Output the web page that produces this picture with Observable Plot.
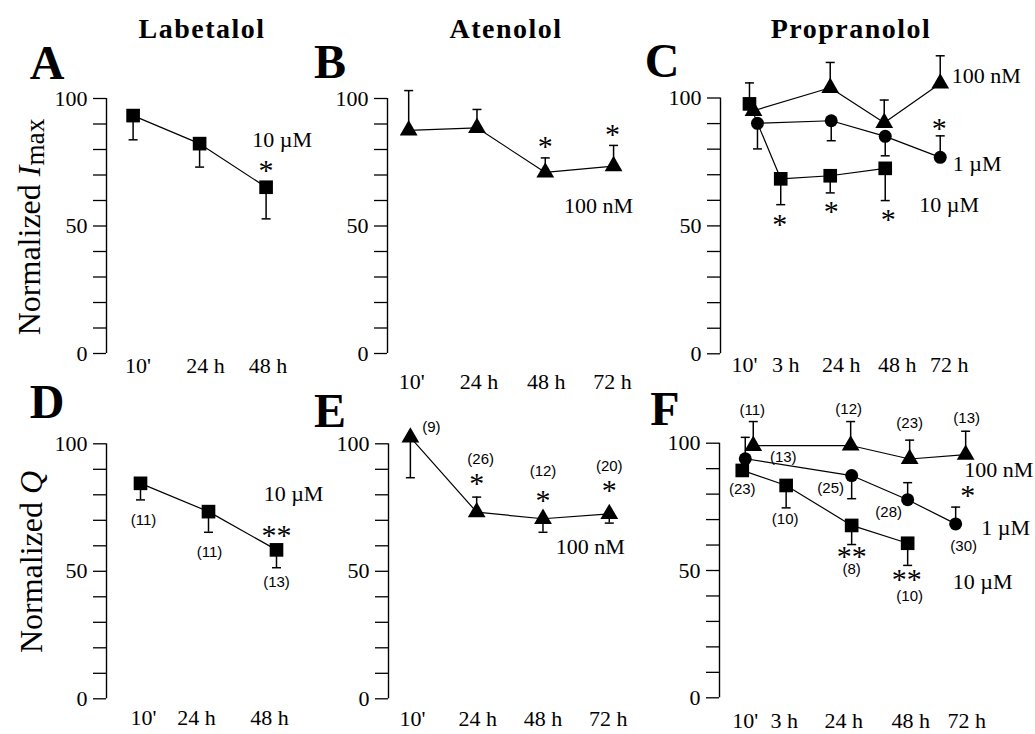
<!DOCTYPE html>
<html><head><meta charset="utf-8">
<script src="https://cdn.jsdelivr.net/npm/d3@7"></script>
<script src="https://cdn.jsdelivr.net/npm/@observablehq/plot@0.6"></script>
<style>
body{margin:0;background:#fff;}
#fig{position:relative;width:1035px;height:734px;overflow:hidden;background:#fff;font-family:"Liberation Serif","Times New Roman",serif;color:#000;}
#fig svg{position:absolute;}
.lbl{position:absolute;white-space:nowrap;line-height:1;}
.title{font-weight:bold;font-size:28px;letter-spacing:1.5px;transform:translateX(-50%);}
.letter{font-weight:bold;font-size:48px;transform:translateX(-50%);}
.ylab{font-size:32px;transform:translate(-50%,-50%) rotate(-90deg);}
.ylab sub{font-size:0.85em;vertical-align:-0.12em;}
</style></head><body><div id="fig"></div><script>
// ================= DATA =================
const drugTitles = ["Labetalol", "Atenolol", "Propranolol"];
const panelLetters = ["A", "B", "C", "D", "E", "F"];

// Labetalol (10 µM)
const labTimes = ["10'", "24 h", "48 h"];
const labImax = [93.3, 82.3, 65.2];
const labImaxErr = [-9.5, -9.2, -12.4];
const labImaxSig = ["", "", "*"];
const labQ = [84.5, 73.4, 58.4];
const labQErr = [-6.5, -8.1, -7.0];
const labQN = [11, 11, 13];
const labQSig = ["", "", "**"];

// Atenolol (100 nM)
const atnTimes = ["10'", "24 h", "48 h", "72 h"];
const atnImax = [87.5, 88.5, 71.0, 73.5];
const atnImaxErr = [15.6, 7.2, 5.7, 8.1];
const atnImaxSig = ["", "", "*", "*"];
const atnQ = [102.5, 73.2, 70.6, 72.5];
const atnQErr = [-15.8, 5.9, -5.3, -3.6];
const atnQN = [9, 26, 12, 20];
const atnQSig = ["", "*", "*", "*"];

// Propranolol
const proTimes = ["10'", "3 h", "24 h", "48 h", "72 h"];
const pro100nMTimes = ["10'", "24 h", "48 h", "72 h"];
const pro1uMTimes = ["10'", "24 h", "48 h", "72 h"];
const pro10uMTimes = ["10'", "3 h", "24 h", "48 h"];
// Imax
const pro100nMImax = [95.0, 104.0, 90.3, 105.7];
const pro100nMImaxErr = [0, 9.9, 8.9, 10.8];
const pro1uMImax = [90.1, 91.1, 85.0, 76.8];
const pro1uMImaxErr = [-10.0, -7.8, -7.6, 8.4];
const pro1uMImaxSig = ["", "", "", "*"];
const pro10uMImax = [97.7, 68.4, 69.6, 72.5];
const pro10uMImaxErr = [8.2, -10.1, -6.7, -12.6];
const pro10uMImaxSig = ["", "*", "*", "*"];
// Q
const pro100nMQ = [99.0, 99.1, 93.8, 95.5];
const pro100nMQErr = [9.5, 9.4, 7.4, 9.2];
const pro100nMQN = [11, 12, 23, 13];
const pro1uMQ = [93.9, 87.3, 77.8, 68.3];
const pro1uMQErr = [8.4, -9.1, 6.7, 6.6];
const pro1uMQN = [13, 25, 28, 30];
const pro1uMQSig = ["", "", "", "*"];
const pro10uMQ = [89.3, 83.4, 67.7, 60.7];
const pro10uMQErr = [0, -8.8, -7.5, -8.7];
const pro10uMQN = [23, 10, 8, 10];
const pro10uMQSig = ["", "", "**", "**"];

const yTicks = d3.range(0, 101, 10);

// ================= LAYOUT (pixels) =================
const R = {square: 7.7, circle: 6.5, triangle: 6.6};
const STAR_FONT = 30, STAR_SHIFT = 5;
const capSymbol = {draw(ctx) { ctx.moveTo(-4.5, 0); ctx.lineTo(4.5, 0); }};

const layouts = {
  A: {left: 0, top: 30, width: 325, height: 360, axisPx: 106, y100: 98, y0: 353, xlo: -0.4, xhi: 2.8, unit: 66.5,
      slots: [0, 1, 2], tickPad: 4, tickNudge: [5, 6, 2],
      annots: [{s: "sq", i: 2, k: "sig", dx: 0, dy: -21.7}, {s: "sq", i: 2, k: "conc", dx: 16, dy: -47}]},
  B: {left: 325, top: 30, width: 315, height: 360, axisPx: 387, y100: 98, y0: 353, xlo: -0.31, xhi: 3.35, unit: 68.3,
      slots: [0, 1, 2, 3], tickPad: 20, tickNudge: [3, 2, 1, -1],
      annots: [{s: "tr", i: 2, k: "sig", dx: 0, dy: -31}, {s: "tr", i: 3, k: "sig", dx: -1, dy: -36.6},
               {s: "tr", i: 3, k: "conc", dx: -15, dy: 40}]},
  C: {left: 640, top: 30, width: 395, height: 360, axisPx: 720, y100: 97.5, y0: 353.3, xlo: -0.545, xhi: 4.2, unit: 55,
      slots: [0, 0.55, 1.45, 2.45, 3.45], tickPad: 3, tickNudge: [-6, 5, 11, 12, 9],
      nudge: {sq: [-1, 0, 0, 0], ci: [7, 1, 0, 0], tr: [3, 0, -1, 0]},
      annots: [{s: "sq", i: 1, k: "sig", dx: -1, dy: 40.7}, {s: "sq", i: 2, k: "sig", dx: 1, dy: 30.7},
               {s: "sq", i: 3, k: "sig", dx: 3, dy: 46}, {s: "sq", i: 3, k: "conc", dx: 64, dy: 37},
               {s: "ci", i: 3, k: "sig", dx: -1, dy: -34.4}, {s: "ci", i: 3, k: "conc", dx: 37, dy: 7},
               {s: "tr", i: 3, k: "conc", dx: 46, dy: -7}]},
  D: {left: 0, top: 390, width: 325, height: 344, axisPx: 106, y100: 443.3, y0: 698.3, xlo: -0.5, xhi: 2.6, unit: 68,
      slots: [0, 1, 2], tickPad: 11, tickNudge: [3, -12, -7],
      annots: [{s: "sq", i: 0, k: "n", dx: 3, dy: 37}, {s: "sq", i: 1, k: "n", dx: 1, dy: 41},
               {s: "sq", i: 2, k: "n", dx: 0, dy: 32.6}, {s: "sq", i: 2, k: "sig", dx: 0, dy: -19.4},
               {s: "sq", i: 2, k: "conc", dx: 17, dy: -56}]},
  E: {left: 325, top: 390, width: 315, height: 344, axisPx: 388, y100: 443.3, y0: 698.3, xlo: -0.33, xhi: 3.45, unit: 66.3,
      slots: [0, 1, 2, 3], tickPad: 12, tickNudge: [2, 1, 0, -1],
      annots: [{s: "tr", i: 0, k: "n", dx: 21, dy: -10}, {s: "tr", i: 1, k: "n", dx: 4, dy: -52.6},
               {s: "tr", i: 1, k: "sig", dx: 0, dy: -33.6}, {s: "tr", i: 2, k: "n", dx: 0, dy: -47.3},
               {s: "tr", i: 2, k: "sig", dx: 0, dy: -23.3}, {s: "tr", i: 3, k: "n", dx: 0, dy: -47.4},
               {s: "tr", i: 3, k: "sig", dx: 0, dy: -28.4}, {s: "tr", i: 3, k: "conc", dx: -19, dy: 32.6}]},
  F: {left: 640, top: 390, width: 395, height: 344, axisPx: 719, y100: 442.7, y0: 697.3, xlo: -0.46, xhi: 4.2, unit: 56,
      slots: [0, 0.73, 1.9, 2.9, 3.9], tickPad: 15, tickNudge: [0, -2, -8, 3, 3],
      nudge: {sq: [-3, 0, 0, 0], ci: [0, 0, 0, -8], tr: [8, -1, 2, 2]},
      annots: [{s: "tr", i: 0, k: "n", dx: -1, dy: -36}, {s: "tr", i: 1, k: "n", dx: -2, dy: -36},
               {s: "tr", i: 2, k: "n", dx: 0, dy: -36}, {s: "tr", i: 3, k: "n", dx: 1, dy: -36.7},
               {s: "tr", i: 3, k: "conc", dx: 33, dy: 15},
               {s: "ci", i: 0, k: "n", dx: 38, dy: -2}, {s: "ci", i: 1, k: "n", dx: -21, dy: 12.5},
               {s: "ci", i: 2, k: "n", dx: -19, dy: 12}, {s: "ci", i: 3, k: "n", dx: 8, dy: 22.6},
               {s: "ci", i: 3, k: "sig", dx: 12, dy: -33.4}, {s: "ci", i: 3, k: "conc", dx: 50, dy: 3.6},
               {s: "sq", i: 0, k: "n", dx: 0, dy: 19}, {s: "sq", i: 1, k: "n", dx: -1, dy: 34},
               {s: "sq", i: 2, k: "sig", dx: 0, dy: 26}, {s: "sq", i: 2, k: "n", dx: 0, dy: 44},
               {s: "sq", i: 3, k: "sig", dx: -1, dy: 31}, {s: "sq", i: 3, k: "n", dx: 2, dy: 53},
               {s: "sq", i: 3, k: "conc", dx: 75, dy: 39}]}
};

// ================= PANELS =================
const panels = [
  {id: "A", times: labTimes, series: [
    {key: "sq", shape: "square", label: "10 µM", times: labTimes, values: labImax, errs: labImaxErr, sig: labImaxSig}]},
  {id: "B", times: atnTimes, series: [
    {key: "tr", shape: "triangle", label: "100 nM", times: atnTimes, values: atnImax, errs: atnImaxErr, sig: atnImaxSig}]},
  {id: "C", times: proTimes, series: [
    {key: "tr", shape: "triangle", label: "100 nM", times: pro100nMTimes, values: pro100nMImax, errs: pro100nMImaxErr},
    {key: "ci", shape: "circle", label: "1 µM", times: pro1uMTimes, values: pro1uMImax, errs: pro1uMImaxErr, sig: pro1uMImaxSig},
    {key: "sq", shape: "square", label: "10 µM", times: pro10uMTimes, values: pro10uMImax, errs: pro10uMImaxErr, sig: pro10uMImaxSig}]},
  {id: "D", times: labTimes, series: [
    {key: "sq", shape: "square", label: "10 µM", times: labTimes, values: labQ, errs: labQErr, n: labQN, sig: labQSig}]},
  {id: "E", times: atnTimes, series: [
    {key: "tr", shape: "triangle", label: "100 nM", times: atnTimes, values: atnQ, errs: atnQErr, n: atnQN, sig: atnQSig}]},
  {id: "F", times: proTimes, series: [
    {key: "sq", shape: "square", label: "10 µM", times: pro10uMTimes, values: pro10uMQ, errs: pro10uMQErr, n: pro10uMQN, sig: pro10uMQSig},
    {key: "ci", shape: "circle", label: "1 µM", times: pro1uMTimes, values: pro1uMQ, errs: pro1uMQErr, n: pro1uMQN, sig: pro1uMQSig},
    {key: "tr", shape: "triangle", label: "100 nM", times: pro100nMTimes, values: pro100nMQ, errs: pro100nMQErr, n: pro100nMQN}]}
];

const fig = document.getElementById("fig");

function drawPanel(cfg) {
  const L = layouts[cfg.id];
  const mL = L.axisPx - L.left, mT = L.y100 - L.top, mB = L.top + L.height - L.y0;
  const frameW = (L.xhi - L.xlo) * L.unit;
  const mR = L.width - mL - frameW;
  const pyu = (L.y0 - L.y100) / 100;
  const slotOf = t => L.slots[cfg.times.indexOf(t)];
  const tickPos = L.slots.map((s, i) => s + ((L.tickNudge && L.tickNudge[i]) || 0) / L.unit);
  const pts = [], bySeries = {};
  cfg.series.forEach(s => {
    const nudge = (L.nudge && L.nudge[s.key]) || [];
    bySeries[s.key] = s.times.map((t, i) => {
      const p = {key: s.key, x: slotOf(t) + (nudge[i] || 0) / L.unit, y: s.values[i], err: s.errs[i]};
      pts.push(p);
      return p;
    });
  });
  const bars = pts.filter(p => p.err !== 0);
  const ann = L.annots.map(a => {
    const s = cfg.series.find(q => q.key === a.s);
    const p = bySeries[a.s][a.i];
    const text = a.k === "n" ? `(${s.n[a.i]})` : a.k === "sig" ? s.sig[a.i] : s.label;
    const shift = a.k === "sig" ? STAR_SHIFT : 0;
    return {k: a.k, text, x: p.x + a.dx / L.unit, y: p.y - (a.dy + shift) / pyu};
  });
  const svg = Plot.plot({
    width: L.width, height: L.height,
    marginLeft: mL, marginRight: mR, marginTop: mT, marginBottom: mB,
    x: {type: "linear", domain: [L.xlo, L.xhi]},
    y: {type: "linear", domain: [0, 100]},
    style: {background: "transparent", fontFamily: "Liberation Serif", overflow: "visible", color: "black"},
    marks: [
      Plot.ruleX([L.xlo], {y1: 0, y2: 100, stroke: "black", strokeWidth: 1.4}),
      Plot.axisY({ticks: yTicks, tickSize: 13, tickPadding: 6, tickFormat: d => (d % 50 === 0 ? String(d) : ""),
                  fontSize: 22, strokeWidth: 1.3, label: null}),
      Plot.axisX({ticks: tickPos, tickFormat: d => cfg.times[tickPos.indexOf(d)], tickSize: 0,
                  tickPadding: L.tickPad, fontSize: 22, label: null}),
      Plot.ruleX(bars, {x: "x", y1: "y", y2: d => d.y + d.err, stroke: "black", strokeWidth: 1.5}),
      Plot.dot(bars, {x: "x", y: d => d.y + d.err, symbol: capSymbol, r: 4, stroke: "black", strokeWidth: 1.5, fill: "none"}),
      ...cfg.series.map(s => Plot.line(bySeries[s.key], {x: "x", y: "y", stroke: "black", strokeWidth: 1.2})),
      ...cfg.series.map(s => Plot.dot(bySeries[s.key], {x: "x", y: "y", symbol: s.shape, r: R[s.shape], fill: "black", stroke: "none"})),
      Plot.text(ann.filter(a => a.k === "n"), {x: "x", y: "y", text: "text", fontFamily: "Liberation Sans", fontSize: 15, fill: "black"}),
      Plot.text(ann.filter(a => a.k === "sig"), {x: "x", y: "y", text: "text", fontFamily: "Liberation Serif", fontSize: STAR_FONT, fill: "black"}),
      Plot.text(ann.filter(a => a.k === "conc"), {x: "x", y: "y", text: "text", fontFamily: "Liberation Serif", fontSize: 22, fill: "black"})
    ]
  });
  svg.style.left = L.left + "px";
  svg.style.top = L.top + "px";
  fig.appendChild(svg);
}
panels.forEach(drawPanel);

// ================= HTML TEXT =================
function addLabel(cls, html, left, top) {
  const d = document.createElement("div");
  d.className = "lbl " + cls;
  d.innerHTML = html;
  d.style.left = left + "px";
  d.style.top = top + "px";
  fig.appendChild(d);
}
const titlePos = [[202, 14.6], [506, 14.6], [851, 14.6]];
drugTitles.forEach((t, i) => addLabel("title", t, titlePos[i][0], titlePos[i][1]));
const letterPos = [[47, 39], [330, 38], [662, 37], [47, 378], [330, 387], [665, 385]];
panelLetters.forEach((t, i) => addLabel("letter", t, letterPos[i][0], letterPos[i][1]));
addLabel("ylab", "Normalized <i>I</i><sub>max</sub>", 31, 226.5);
addLabel("ylab", "Normalized <i>Q</i>", 31, 561.5);
</script></body></html>
